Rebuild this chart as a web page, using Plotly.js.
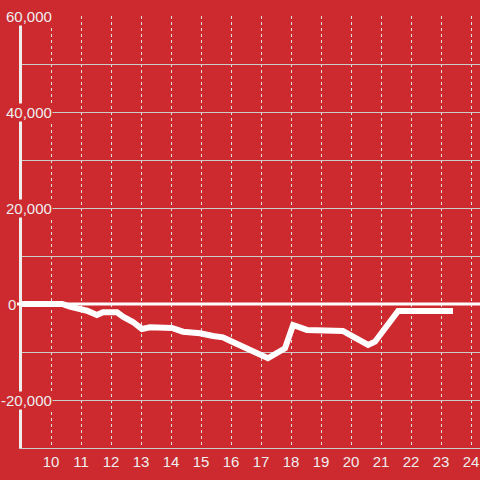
<!DOCTYPE html>
<html>
<head>
<meta charset="utf-8">
<script src="https://cdn.plot.ly/plotly-3.0.1.min.js"></script>
<style>html,body{margin:0;padding:0;background:#cc2a2f;}</style>
</head>
<body>
<div id="chart" style="width:480px;height:480px;"></div>
<script>
const xValues = [9.0, 10.37, 10.63, 10.97, 11.2, 11.53, 11.73, 12.2, 12.4, 12.73, 13.03, 13.3, 13.87, 14.03, 14.4, 14.97, 15.4, 15.73, 15.97, 16.63, 17.23, 17.8, 18.07, 18.53, 19.73, 20.07, 20.57, 20.8, 21.2, 21.57, 23.4];
const yValues = [0, 0, -560, -1100, -1400, -2300, -1730, -1730, -2650, -3750, -5200, -4850, -4940, -5000, -5770, -6100, -6670, -6940, -7650, -9580, -11300, -9230, -4375, -5400, -5600, -6800, -8540, -7850, -4730, -1460, -1460];
const xTicks = [10, 11, 12, 13, 14, 15, 16, 17, 18, 19, 20, 21, 22, 23, 24];
const yTicks = [-30000, -20000, -10000, 0, 10000, 20000, 30000, 40000, 50000, 60000];
const yLabelTicks = [-20000, 0, 20000, 40000, 60000];

const RED = '#cc2a2f';
const TXT = '#eeeeee';
const W = 480, L = 22, R = 0;
const plotW = W - L - R;
const px2paper = p => (p - L) / plotW;

const annotations = yLabelTicks.map(v => ({
  xref: 'paper', yref: 'y',
  x: px2paper(v === 0 ? 16.5 : 52.5), y: v,
  xanchor: 'right', yanchor: 'middle',
  text: v.toLocaleString('en-US'),
  showarrow: false,
  bgcolor: RED, borderpad: 0,
  font: {family: 'Liberation Sans, Arial, sans-serif', size: 15, color: TXT}
}));

const data = [{
  type: 'scatter', mode: 'lines',
  x: xValues, y: yValues,
  line: {color: '#ffffff', width: 6},
  hoverinfo: 'skip'
}];

const layout = {
  width: 480, height: 480,
  margin: {l: L, r: R, t: 16, b: 32, pad: 0},
  paper_bgcolor: RED, plot_bgcolor: RED,
  showlegend: false,
  font: {family: 'Liberation Sans, Arial, sans-serif', size: 15, color: TXT},
  xaxis: {
    range: [9 + 1/30, 24.3],
    tickvals: xTicks,
    ticktext: xTicks.map(String),
    showgrid: true, gridcolor: '#dddddd', gridwidth: 1, griddash: '3px,3px',
    zeroline: false, showline: true, linecolor: '#cccccc', linewidth: 1, ticks: '',
    tickfont: {size: 15, color: TXT}
  },
  yaxis: {
    range: [-30000, 60000],
    tickvals: yTicks,
    showticklabels: false,
    showgrid: true, gridcolor: '#cccccc', gridwidth: 1,
    zeroline: false,
    showline: true, linecolor: '#eeeeee', linewidth: 3,
    ticks: ''
  },
  shapes: [{
    type: 'line', xref: 'paper', yref: 'y',
    x0: px2paper(17), x1: 1, y0: 0, y1: 0,
    line: {color: '#ffffff', width: 3},
    layer: 'above'
  }],
  annotations: annotations
};

Plotly.newPlot('chart', data, layout, {staticPlot: true, displayModeBar: false});
</script>
</body>
</html>
